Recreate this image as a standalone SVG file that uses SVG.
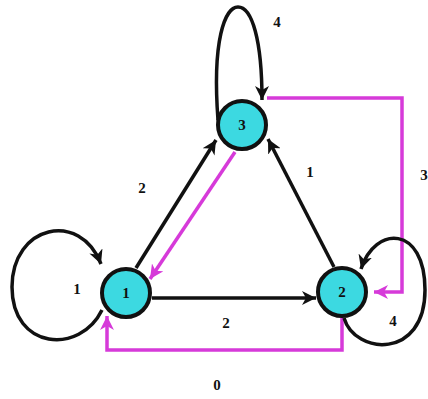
<svg xmlns="http://www.w3.org/2000/svg" width="428" height="399" viewBox="0 0 428 399">
<style>
.e{fill:none;stroke:#111;stroke-width:3.5}
.m{fill:none;stroke:#d63ad9;stroke-width:3.5}
.n{fill:#3cd9e1;stroke:#111;stroke-width:4}
.t{font-family:"Liberation Serif",serif;font-size:15px;font-weight:bold;fill:#111;text-anchor:middle}
</style>
<defs>
<marker id="ab" markerUnits="userSpaceOnUse" markerWidth="16" markerHeight="14" refX="14" refY="7" orient="auto"><path d="M0,0 L14,7 L0,14 L4,7 Z" fill="#111"/></marker>
<marker id="am" markerUnits="userSpaceOnUse" markerWidth="16" markerHeight="14" refX="14" refY="7" orient="auto"><path d="M0,0 L14,7 L0,14 L4,7 Z" fill="#d63ad9"/></marker>
</defs>
<rect width="428" height="399" fill="#fff"/>
<g id="connectors">
<path class="e" d="M218,120 C212,40 225,7 238,7 C252,7 262,40 262,100" marker-end="url(#ab)"/>
<path class="m" d="M267,98 L402,98 L402,292 L374,292" marker-end="url(#am)"/>
<path class="e" d="M136,268 L216,140" marker-end="url(#ab)"/>
<path class="m" d="M235,152 L150,279" marker-end="url(#am)"/>
<path class="e" d="M334,267 L268,139" marker-end="url(#ab)"/>
<path class="e" d="M152,298 L316,298" marker-end="url(#ab)"/>
<path class="m" d="M342,318 L342,350 L107,350 L107,316" marker-end="url(#am)"/>
<path class="e" d="M102,310 C80,355 12,350 12,287 C12,225 80,210 101,264" marker-end="url(#ab)"/>
<path class="e" d="M344,318 C355,355 425,360 425,290 C425,225 375,225 361,269" marker-end="url(#ab)"/>
<text class="t" x="277" y="27">4</text>
<text class="t" x="424" y="180">3</text>
<text class="t" x="142" y="193">2</text>
<text class="t" x="310" y="177">1</text>
<text class="t" x="77" y="294">1</text>
<text class="t" x="226" y="328">2</text>
<text class="t" x="393" y="326">4</text>
<text class="t" x="217" y="390">0</text>
</g>
<g id="node1"><circle class="n" cx="126" cy="293" r="24"/><text class="t" x="126" y="298">1</text></g>
<g id="node2"><circle class="n" cx="342" cy="292" r="24"/><text class="t" x="342" y="297">2</text></g>
<g id="node3"><circle class="n" cx="242" cy="125" r="24"/><text class="t" x="242" y="130">3</text></g>
</svg>
